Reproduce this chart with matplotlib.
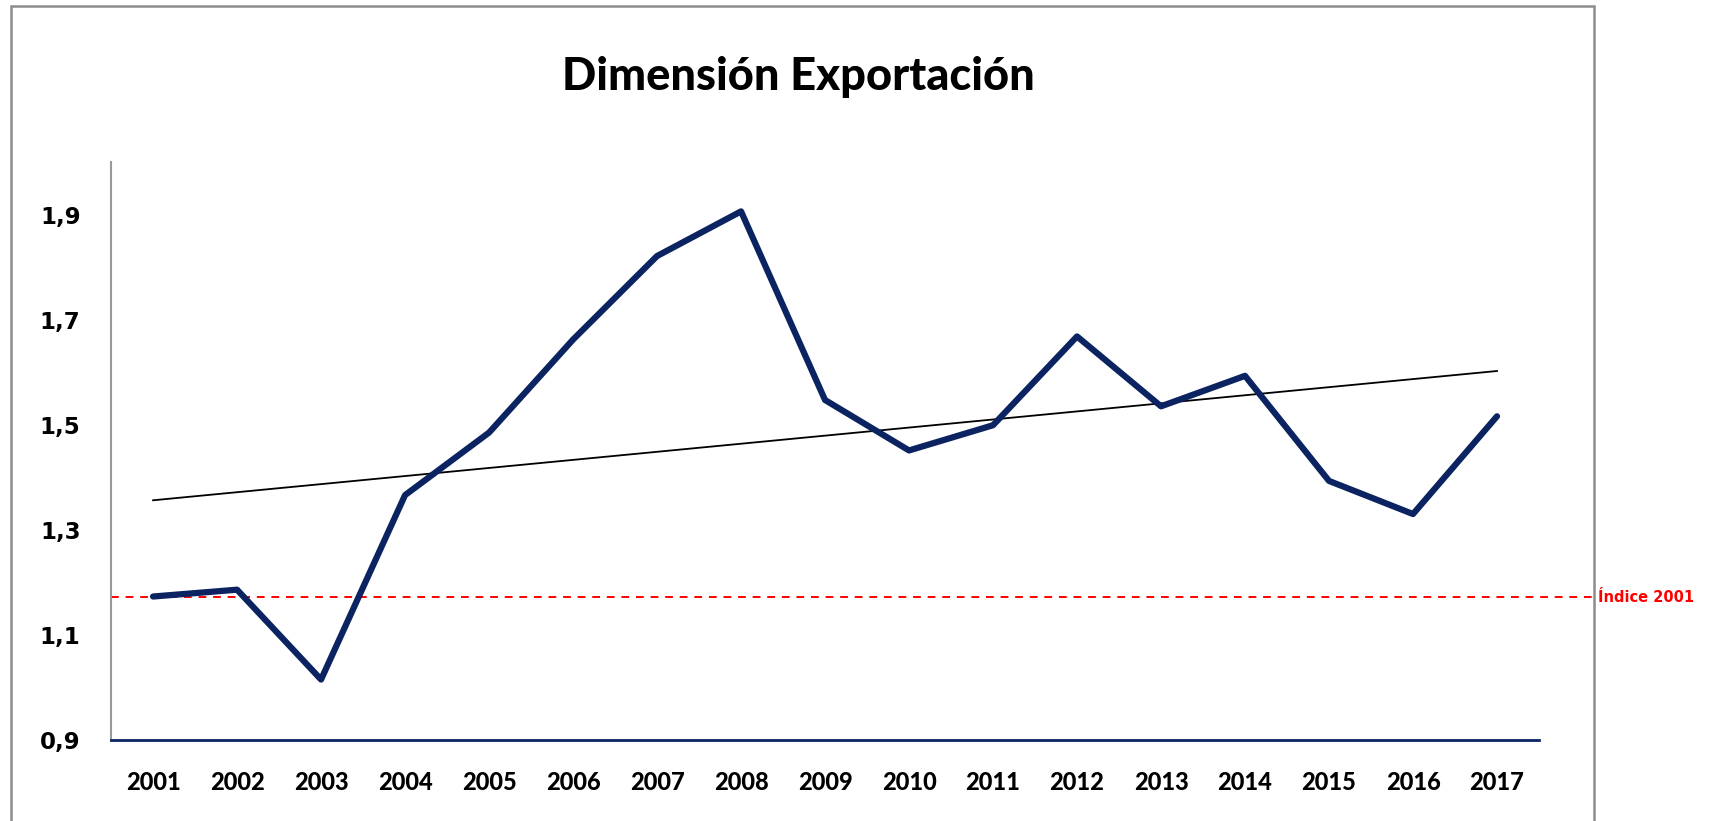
import numpy as np
import matplotlib.pyplot as plt
import matplotlib.transforms as mtransforms
from matplotlib.patches import Rectangle

# data
years = [str(y) for y in range(2001, 2018)]
dimension = [1.173, 1.186, 1.015, 1.366, 1.485, 1.662, 1.821, 1.906, 1.547,
             1.451, 1.499, 1.668, 1.535, 1.593, 1.393, 1.330, 1.516]
indice_2001 = 1.172
y_ticks = [0.9, 1.1, 1.3, 1.5, 1.7, 1.9]
y_tick_labels = ['0,9', '1,1', '1,3', '1,5', '1,7', '1,9']

navy = '#0b2461'

fig = plt.figure(figsize=(17.14, 8.21), dpi=100)
ax = fig.add_axes([0.0648, 0.0987, 0.8331, 0.704])

x = np.arange(len(years))
ax.plot(x, dimension, color=navy, lw=4.5, solid_capstyle='round', zorder=3)

# linear trend line
coef = np.polyfit(x, dimension, 1)
ax.plot(x, np.polyval(coef, x), color='black', lw=1.3, zorder=2)

# reference line for 2001, runs out to the chart border
ax.axhline(indice_2001, xmin=0, xmax=1.0385, color='#ff0000', lw=1.4,
           ls=(0, (4, 3.5)), clip_on=False, zorder=1)
trans = mtransforms.blended_transform_factory(fig.transFigure, ax.transData)
ax.text(0.9325, indice_2001, 'Índice 2001', transform=trans, color='#ff0000',
        fontsize=10.5, fontweight='bold', va='center', ha='left',
        family='DejaVu Sans')

ax.set_xlim(-0.5, len(years) - 0.5)
ax.set_ylim(0.9, 2.0)
ax.set_xticks(x)
ax.set_xticklabels(years, fontsize=17, fontweight='black', family='Lato')
ax.set_yticks(y_ticks)
ax.set_yticklabels(y_tick_labels, fontsize=16.5, fontweight='bold',
                   family='DejaVu Sans')
ax.tick_params(length=0)
ax.tick_params(axis='x', pad=22)
ax.tick_params(axis='y', pad=22)

for s in ['top', 'right']:
    ax.spines[s].set_visible(False)
ax.spines['left'].set_color('#999999')
ax.spines['left'].set_linewidth(1.5)
ax.spines['bottom'].set_color(navy)
ax.spines['bottom'].set_linewidth(2)

fig.text(0.466, 0.906, 'Dimensión Exportación', fontsize=32.5,
         fontweight='black', family='Lato', ha='center', va='center')

# outer chart border
fig.patches.append(Rectangle((0.0064, -0.02), 0.9236, 1.0133,
                             transform=fig.transFigure, fill=False,
                             edgecolor='#8c8c8c', lw=1.8))

fig.savefig('out.png', dpi=100)
